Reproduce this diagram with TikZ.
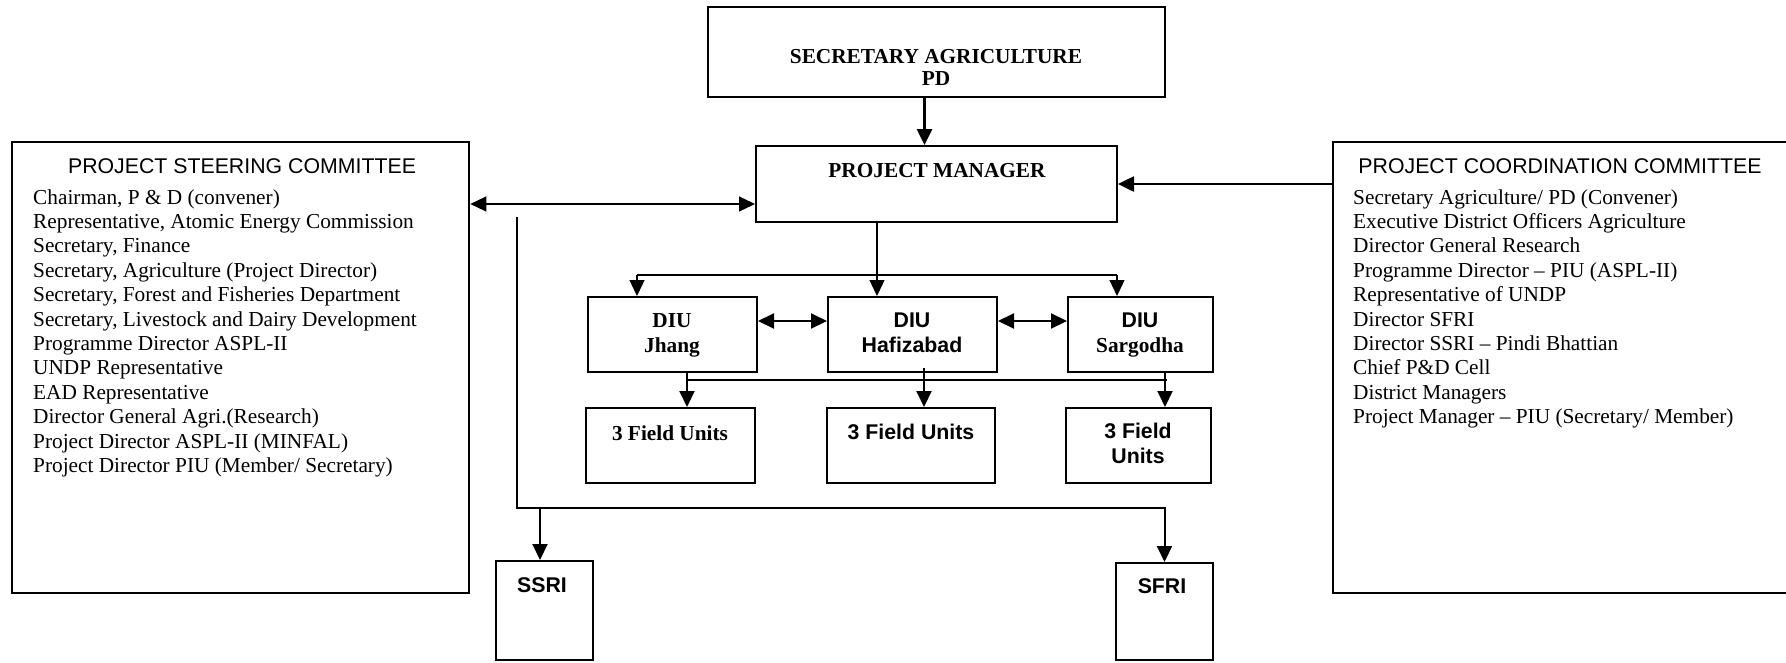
\documentclass[tikz,border=0pt]{standalone}
\usepackage{fontspec}
\setmainfont{Liberation Serif}
\setsansfont{Liberation Sans}
\usetikzlibrary{arrows.meta,fit}
\newcommand\dgfs{\fontsize{21.3}{25}\selectfont}
\begin{document}
\begin{tikzpicture}[x=1pt,y=-1pt,
  box/.style={draw, line width=2pt, inner sep=0pt},
  txt/.style={inner sep=0pt, anchor=base},
  serR/.style={txt, font=\dgfs\rmfamily},
  serB/.style={txt, font=\dgfs\rmfamily\bfseries},
  sanR/.style={txt, font=\dgfs\sffamily},
  sanB/.style={txt, font=\dgfs\sffamily\bfseries},
  thinln/.style={line width=1.3pt},
  midln/.style={line width=2pt},
  thickln/.style={line width=2.6pt},
  arr/.style={-{Triangle[length=16pt,width=15pt]}},
  darr/.style={{Triangle[length=16pt,width=15pt]}-{Triangle[length=16pt,width=15pt]}}
]
\useasboundingbox (0,0) rectangle (1786,662);
\clip (0,0) rectangle (1786,662);

% top boxes
\node[box, fit={(708,7) (1165,97)}] (sec) {};
\node[serB] (secT1) at (936,63) {SECRETARY AGRICULTURE};
\node[serB] (secT2) at (936,85) {PD};
\node[box, fit={(756,146) (1117,222)}] (pm) {};
\node[serB] (pmT) at (937,177) {PROJECT MANAGER};

% committees
\node[box, line width=2.6pt, fit={(12,142) (469,593)}] (psc) {};
\node[sanR] (pscT) at (242,173) {PROJECT STEERING COMMITTEE};
\foreach \t [count=\i] in {{Chairman, P \& D (convener)},
  {Representative, Atomic Energy Commission},
  {Secretary, Finance},
  {Secretary, Agriculture (Project Director)},
  {Secretary, Forest and Fisheries Department},
  {Secretary, Livestock and Dairy Development},
  {Programme Director ASPL-II},
  {UNDP Representative},
  {EAD Representative},
  {Director General Agri.(Research)},
  {Project Director ASPL-II (MINFAL)},
  {Project Director PIU (Member/ Secretary)}}
  \node[serR, anchor=base west] (psc\i) at (33,{204+24.4*(\i-1)}) {\t};

\node[box, line width=2.6pt, fit={(1333,142) (1800,593)}] (pcc) {};
\node[sanR] (pccT) at (1560,173) {PROJECT COORDINATION COMMITTEE};
\foreach \t [count=\i] in {{Secretary Agriculture/ PD (Convener)},
  {Executive District Officers Agriculture},
  {Director General Research},
  {Programme Director – PIU (ASPL-II)},
  {Representative of UNDP},
  {Director SFRI},
  {Director SSRI – Pindi Bhattian},
  {Chief P\&D Cell},
  {District Managers},
  {Project Manager – PIU (Secretary/ Member)}}
  \node[serR, anchor=base west] (pcc\i) at (1353,{204+24.4*(\i-1)}) {\t};

% DIUs
\node[box, fit={(588,297) (757,372)}] (diuJ) {};
\node[serB] (diuJa) at (672,327) {DIU};
\node[serB] (diuJb) at (672,352) {Jhang};
\node[box, fit={(828,297) (997,372)}] (diuH) {};
\node[sanB] (diuHa) at (912,327) {DIU};
\node[sanB] (diuHb) at (912,352) {Hafizabad};
\node[box, fit={(1068,297) (1213,372)}] (diuS) {};
\node[sanB] (diuSa) at (1140,327) {DIU};
\node[serB] (diuSb) at (1140,352) {Sargodha};

% field units
\node[box, fit={(586,408) (755,483)}] (fuL) {};
\node[serB] (fuLa) at (670,440) {3 Field Units};
\node[box, fit={(827,408) (995,483)}] (fuM) {};
\node[sanB] (fuMa) at (911,439) {3 Field Units};
\node[box, fit={(1066,408) (1211,483)}] (fuR) {};
\node[sanB] (fuRa) at (1138,438) {3 Field};
\node[sanB] (fuRb) at (1138,463) {Units};

% institutes
\node[box, fit={(496,561) (593,660)}] (ssri) {};
\node[sanB] (ssriT) at (542,592) {SSRI};
\node[box, fit={(1116,563) (1213,660)}] (sfri) {};
\node[sanB] (sfriT) at (1162,593) {SFRI};

% connectors
\draw[thickln, arr] ([xshift=-12pt]sec.south) -- ([xshift=-12pt]sec.south |- pm.north);
\coordinate (yL) at (0,204);
\coordinate (yR) at (0,184);
\draw[thinln, darr] (psc.east |- yL) -- (pm.west |- yL);
\draw[thickln, arr] (pcc.west |- yR) -- (pm.east |- yR);

\coordinate (bH) at (877,275);
\coordinate (bJ) at (637,275);
\coordinate (bS) at (1117,275);
\draw[thinln] (pm.south -| bH) -- (bH);
\draw[thinln] (bJ) -- (bS);
\draw[thinln, arr] (bJ) -- (bJ |- diuJ.north);
\draw[thinln, arr] (bH) -- (bH |- diuH.north);
\draw[thinln, arr] (bS) -- (bS |- diuS.north);

\coordinate (dy) at (0,321);
\draw[midln, darr] (diuJ.east |- dy) -- (diuH.west |- dy);
\draw[midln, darr] (diuH.east |- dy) -- (diuS.west |- dy);

\coordinate (fJ) at (687,380);
\coordinate (fS) at (1167,380);
\coordinate (fH) at (924,368);
\coordinate (xS) at (1165,0);
\draw[midln] (fJ) -- (fS);
\draw[midln, arr] (diuJ.south -| fJ) -- (fuL.north -| fJ);
\draw[midln, arr] (fH) -- (fH |- fuM.north);
\draw[midln, arr] (diuS.south -| xS) -- (fuR.north -| xS);

\coordinate (r0) at (517,217);
\coordinate (r1) at (517,508);
\coordinate (rS) at (540,508);
\draw[midln, arr] (r0) -- (r1) -| (sfri.north);
\draw[midln, arr] (rS) -- (rS |- ssri.north);
\end{tikzpicture}
\end{document}
